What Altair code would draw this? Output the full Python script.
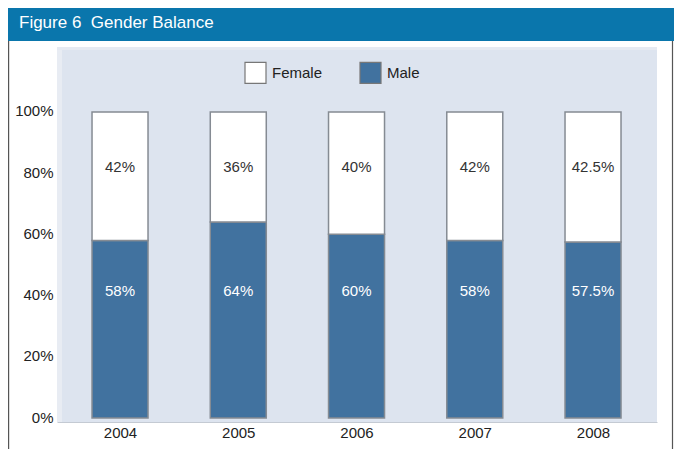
import altair as alt
import pandas as pd

years = [2004, 2005, 2006, 2007, 2008]
male = [58, 64, 60, 58, 57.5]
female = [42, 36, 40, 42, 42.5]
y_ticks = [0, 20, 40, 60, 80, 100]

rows = []
for yr, m, f in zip(years, male, female):
    rows.append({"year": yr, "sex": "Male", "value": m, "lo": 0, "hi": m})
    rows.append({"year": yr, "sex": "Female", "value": f, "lo": m, "hi": m + f})
df = pd.DataFrame(rows)

FONT = "Liberation Sans"
one = pd.DataFrame({"k": [0]})

xscale = alt.Scale(domain=[2003.467, 2008.541], nice=False, zero=False, padding=0)
yscale = alt.Scale(domain=[-1.3, 121.2], nice=False, zero=False, padding=0)

bars = alt.Chart(df).mark_bar(size=56, stroke="#858b93", strokeWidth=1.5).encode(
    x=alt.X("year:Q", scale=xscale,
            axis=alt.Axis(values=years, format="d", title=None, grid=False, ticks=False,
                          domain=True, domainColor="#c4cad3", domainWidth=1,
                          labelFontSize=15, labelColor="#222", labelFont=FONT, labelPadding=3)),
    y=alt.Y("lo:Q", scale=yscale,
            axis=alt.Axis(values=y_ticks, labelExpr="datum.value + '%'", title=None, grid=False,
                          ticks=False, domain=False, labelFontSize=15, labelColor="#222",
                          labelFont=FONT, labelPadding=4, labelOffset=-1)),
    y2="hi:Q",
    color=alt.Color("sex:N",
                    scale=alt.Scale(domain=["Female", "Male"], range=["#ffffff", "#41729f"]),
                    legend=alt.Legend(orient="none", legendX=187, legendY=14, direction="horizontal",
                                      title=None, symbolType="square", symbolSize=441,
                                      symbolStrokeColor="#777", symbolStrokeWidth=1.2,
                                      labelFontSize=15, labelFont=FONT, labelColor="#222",
                                      labelOffset=5, columnPadding=34, padding=0)),
)

labels = alt.Chart(df).transform_calculate(
    ly="datum.sex == 'Female' ? 82 : 41.5",
    txt="datum.value + '%'",
).mark_text(fontSize=15, font=FONT, baseline="middle", align="center").encode(
    x=alt.X("year:Q", scale=xscale),
    y=alt.Y("ly:Q", scale=yscale),
    text="txt:N",
    color=alt.condition("datum.sex == 'Male'", alt.value("white"), alt.value("#333")),
)

title_bar = alt.Chart(one).mark_rect(color="#0a76ac").encode(
    x=alt.value(-49), x2=alt.value(617), y=alt.value(-39), y2=alt.value(-6)
)
title_text = alt.Chart(one).mark_text(
    text="Figure 6\u00a0\u00a0Gender Balance", color="white", fontSize=17, font=FONT,
    align="left", baseline="alphabetic"
).encode(x=alt.value(-38), y=alt.value(-19))

frame_left = alt.Chart(one).mark_rule(color="#555", strokeWidth=1.2).encode(
    x=alt.value(-48.4), y=alt.value(-6), y2=alt.value(402)
)
frame_right = alt.Chart(one).mark_rule(color="#555", strokeWidth=1.2).encode(
    x=alt.value(615.5), y=alt.value(-6), y2=alt.value(402)
)
left_strip = alt.Chart(one).mark_rect(color="#e8ecf3").encode(
    x=alt.value(0), x2=alt.value(5), y=alt.value(0), y2=alt.value(375)
)
top_strip = alt.Chart(one).mark_rect(color="#e6eaf2").encode(
    x=alt.value(0), x2=alt.value(600), y=alt.value(0), y2=alt.value(3)
)

chart = alt.layer(left_strip, top_strip, title_bar, title_text, frame_left, frame_right,
                  bars, labels).properties(
    width=600, height=375,
    autosize=alt.AutoSizeParams(type="none"),
    padding={"left": 49, "top": 39, "right": 17, "bottom": 27},
    background="white",
).configure_view(
    fill="#dde4ef", stroke=None
)

chart.save("out.html", embed_options={"renderer": "svg", "actions": False})
